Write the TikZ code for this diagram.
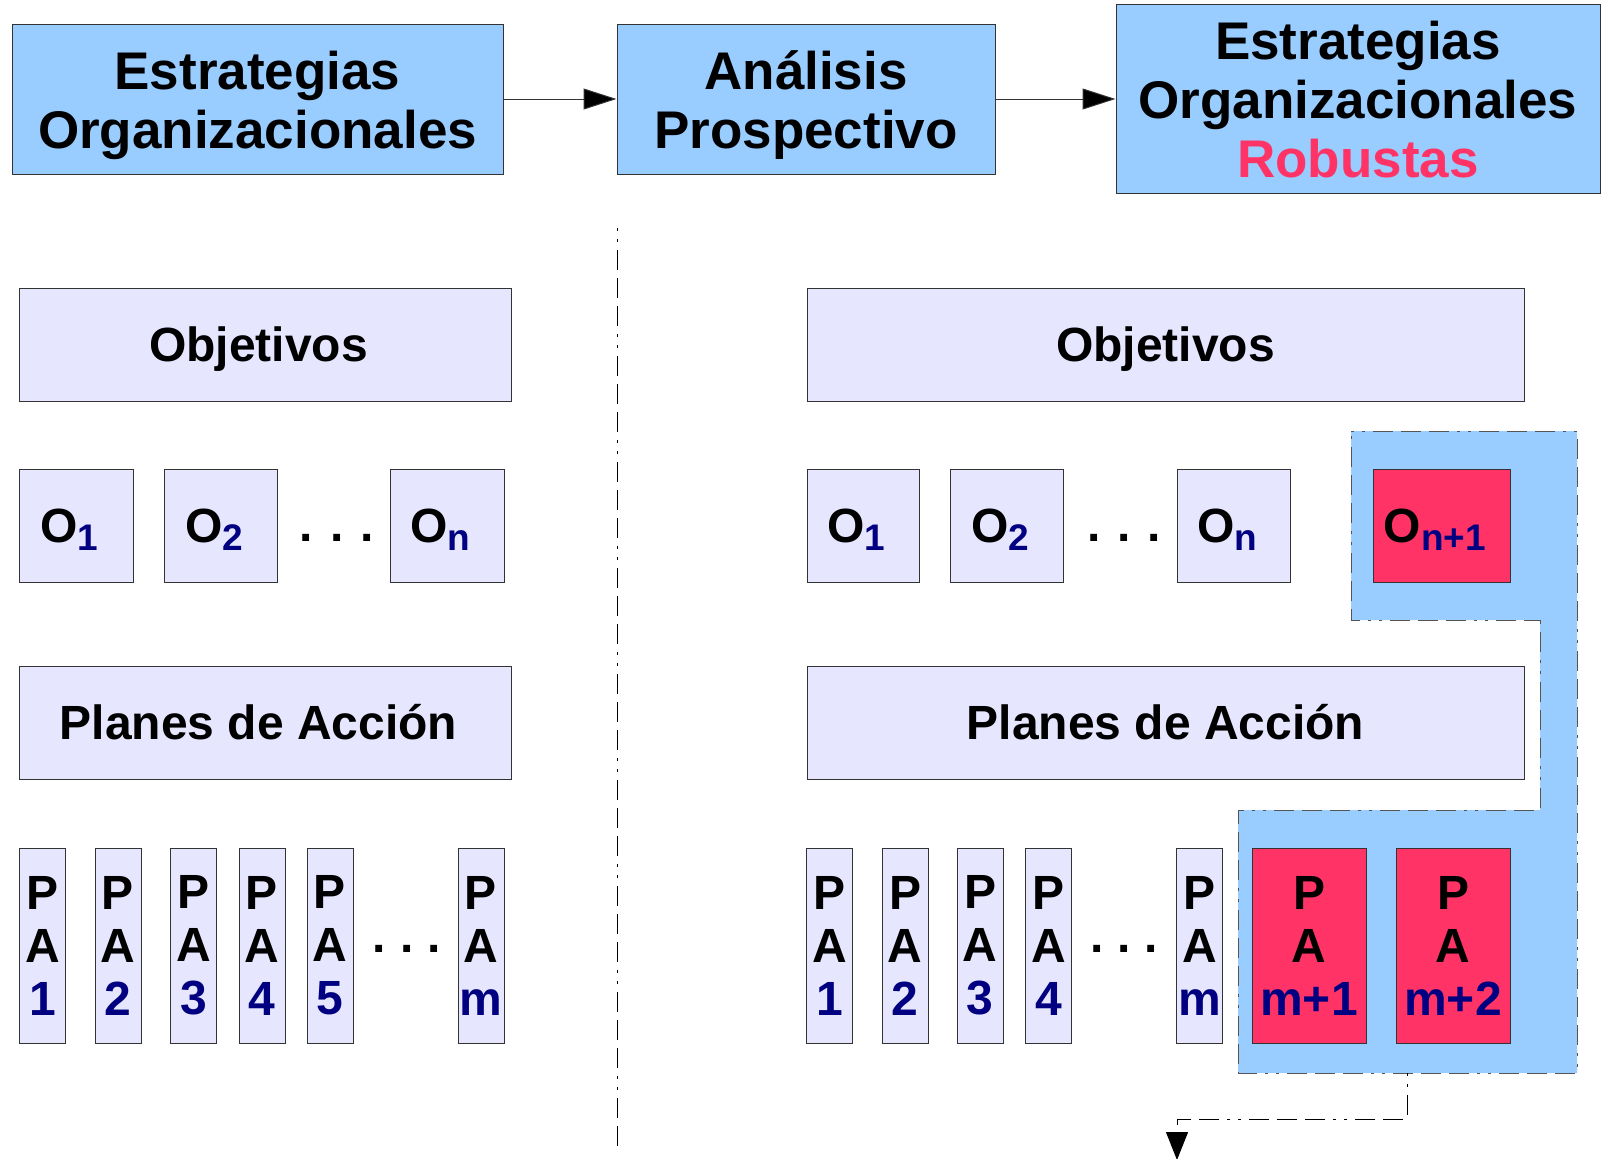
\documentclass[tikz,border=0pt]{standalone}
\usepackage{fontspec}
\setmainfont{Liberation Sans}
\usetikzlibrary{arrows.meta}
\definecolor{lblue}{HTML}{99CCFF}
\definecolor{lav}{HTML}{E6E6FF}
\definecolor{rred}{HTML}{FF3366}
\definecolor{navy}{HTML}{000080}
\definecolor{bord}{HTML}{333333}
\definecolor{dgray}{HTML}{555555}
\newcommand\bigsz{\fontsize{53}{59}\selectfont\bfseries}
\newcommand\midsz{\fontsize{48}{53}\selectfont\bfseries}
\newcommand\subsz{\fontsize{37}{37}\selectfont\bfseries}
\newcommand\osub[1]{\raisebox{-8pt}{\subsz\color{navy}#1}}
\newcommand\lsh{\kern-13pt}
\begin{document}
\begin{tikzpicture}[x=1pt,y=-1pt,
  topbox/.style={draw=bord,fill=lblue,line width=1pt,inner sep=0pt,minimum height=150pt},
  toptext/.style={anchor=base,inner sep=0pt,font=\bigsz},
  lavbox/.style={draw=bord,fill=lav,line width=0.9pt,inner sep=0pt,font=\midsz,text height=34.4pt,text depth=0pt},
  obox/.style={lavbox,minimum height=113pt},
  pabox/.style={draw=bord,fill=lav,line width=0.9pt,inner sep=0pt,font=\midsz,align=center,minimum width=46pt,minimum height=195pt},
  redpa/.style={pabox,fill=rred,minimum width=114pt},
  dotrow/.style={anchor=base,inner sep=0pt,font=\midsz},
  dashdotline/.style={dash pattern=on 3pt off 8pt on 3pt off 8pt on 20pt off 8pt on 20pt off 8pt on 20pt off 8pt},
  conn/.style={draw=bord,line width=1pt,-{Triangle[length=33pt,width=21pt,fill=black]}}
]
\useasboundingbox (0,0) rectangle (1607,1159);
% top row
\node[topbox,minimum width=491pt] (b1) at (257.5,99) {};
\node[topbox,minimum width=378pt] (b2) at (806,99) {};
\node[topbox,minimum width=484pt,minimum height=189pt] (b3) at (1358,98.5) {};
\node[toptext] (b1a) at (257.5,89) {Estrategias};
\node[toptext] (b1b) at (257.5,148) {Organizacionales};
\node[toptext] (b2a) at (806,89) {Análisis};
\node[toptext] (b2b) at (806,148) {Prospectivo};
\node[toptext] (b3a) at (1358,59) {Estrategias};
\node[toptext] (b3b) at (1358,118) {Organizacionales};
\node[toptext,text=rred] (b3c) at (1358,177) {Robustas};
\draw[conn] (b1.east) -- (b2.west);
\draw[conn] (b2.east) -- (b3.west|-b2.east);
% separator
\coordinate (sepT) at (617,228);
\coordinate (sepB) at (617,1150);
\draw[black,line width=1pt,dashdotline] (sepT) -- (sepB);
% left side
\node[lavbox,minimum width=492pt,minimum height=113pt] (objL) at (265,344.5) {\lsh Objetivos};
\node[obox,minimum width=114pt] (o1L) at (76,525.5) {\lsh O\osub{1}};
\node[obox,minimum width=113pt] (o2L) at (220.5,525.5) {\lsh O\osub{2}};
\node[obox,minimum width=114pt] (onL) at (447,525.5) {\lsh O\osub{n}};
\node[dotrow] (dotsOL) at (337,541) {.\hspace{17pt}.\hspace{17pt}.};
\node[lavbox,minimum width=492pt,minimum height=113pt] (plaL) at (265,722.5) {\lsh Planes de Acción};
\node[pabox] (pa1L) at (42.5,945.5) {P\\A\\\color{navy}1};
\node[pabox] (pa2L) at (118,945.5) {P\\A\\\color{navy}2};
\node[pabox] (pa3L) at (193.5,945.5) {P\\A\\\color{navy}3};
\node[pabox] (pa4L) at (262,945.5) {P\\A\\\color{navy}4};
\node[pabox] (pa5L) at (330,945.5) {P\\A\\\color{navy}5};
\node[dotrow] (dotsPL) at (407,952) {.\hspace{14pt}.\hspace{14pt}.};
\node[pabox] (pamL) at (481,945.5) {P\\A\\\color{navy}m};
% right side: highlighted region
\path[fill=lblue,draw=dgray,line width=1pt,dashdotline]
  (1351,431) -- (1577,431) -- (1577,1073) -- (1238,1073) -- (1238,810)
  -- (1540,810) -- (1540,620) -- (1351,620) -- cycle;
\coordinate (regOut) at (1407,1073);
\node[lavbox,minimum width=717pt,minimum height=113pt] (objR) at (1165.5,344.5) {Objetivos};
\node[obox,minimum width=112pt] (o1R) at (863,525.5) {\lsh O\osub{1}};
\node[obox,minimum width=113pt] (o2R) at (1006.5,525.5) {\lsh O\osub{2}};
\node[obox,minimum width=113pt] (onR) at (1233.5,525.5) {\lsh O\osub{n}};
\node[dotrow] (dotsOR) at (1124,541) {.\hspace{17pt}.\hspace{17pt}.};
\node[obox,fill=rred,minimum width=137pt] (on1R) at (1441.5,525.5) {\lsh O\osub{n+1}};
\node[lavbox,minimum width=717pt,minimum height=113pt] (plaR) at (1165.5,722.5) {Planes de Acción};
\node[pabox] (pa1R) at (829.5,945.5) {P\\A\\\color{navy}1};
\node[pabox] (pa2R) at (905,945.5) {P\\A\\\color{navy}2};
\node[pabox] (pa3R) at (980,945.5) {P\\A\\\color{navy}3};
\node[pabox] (pa4R) at (1048.5,945.5) {P\\A\\\color{navy}4};
\node[dotrow] (dotsPR) at (1124,952) {.\hspace{14pt}.\hspace{14pt}.};
\node[pabox] (pamR) at (1199.5,945.5) {P\\A\\\color{navy}m};
\node[redpa] (pam1R) at (1309,945.5) {P\\A\\\color{navy}m+1};
\node[redpa] (pam2R) at (1453,945.5) {P\\A\\\color{navy}m+2};
% output arrow
\coordinate (bend) at (1407,1119);
\coordinate (outEnd) at (1177,1160);
\draw[black,line width=1pt,dashdotline,-{Triangle[length=28pt,width=22pt,fill=black,sep=0pt]}]
  (regOut) -- (bend) -| (outEnd);
\end{tikzpicture}
\end{document}
